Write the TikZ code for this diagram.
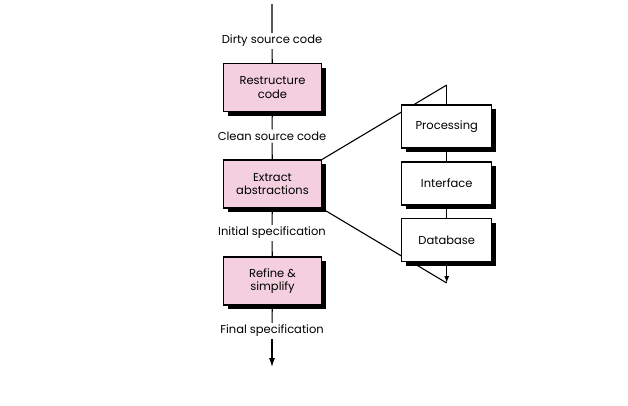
\documentclass[tikz,border=0pt]{standalone}
\usepackage{fontspec}
\setmainfont{Poppins}
\usepackage{tikz}
\usetikzlibrary{shadows,arrows.meta}
\definecolor{boxpink}{RGB}{244,208,222}
\tikzset{every node/.style={font=\fontsize{11.5}{13.3}\selectfont},
  stagebox/.style={draw, line width=1.1pt, fill=boxpink, align=center,
    minimum width=98pt, minimum height=48pt, inner sep=0pt,
    drop shadow={shadow xshift=4pt, shadow yshift=-4pt, fill=black, opacity=1}},
  partbox/.style={stagebox, fill=white, minimum width=90pt, minimum height=43pt},
  flowlabel/.style={inner sep=2pt},
  flow/.style={line width=1.1pt},
  flowarrow/.style={flow, -{Latex[length=9pt,width=6pt]}}}
\begin{document}
\begin{tikzpicture}[x=1pt, y=-1pt]
  \useasboundingbox (0,0) rectangle (628,405);
  % main column
  \coordinate (start) at (272,4);
  \coordinate (finish) at (272,367);
  \node[flowlabel] (dirty) at (272,41) {Dirty source code};
  \node[stagebox] (restruct) at (272.5,87.5) {Restructure\\code};
  \node[flowlabel] (clean) at (272,136) {Clean source code};
  \node[stagebox] (extract) at (272.5,184) {Extract\\abstractions};
  \node[flowlabel] (initial) at (272,233) {Initial specification};
  \node[stagebox] (refine) at (272.5,281) {Refine \&\\simplify};
  \node[flowlabel] (final) at (272,331) {Final specification};
  \draw[flow] (start) -- (dirty) (dirty) -- (restruct) (restruct) -- (clean)
    (clean) -- (extract) (extract) -- (initial) (initial) -- (refine)
    (refine) -- (final);
  \draw[flowarrow] (final) -- (finish);
  % expansion of the abstractions
  \coordinate (ptop) at (446.7,85);
  \coordinate (pbot) at (446.7,283);
  \draw[flow] (extract.north east) -- (ptop);
  \draw[flow] (extract.south east) -- (pbot);
  \node[partbox] (proc) at (446.7,126.5) {Processing};
  \node[partbox] (iface) at (446.7,183.5) {Interface};
  \node[partbox] (dbase) at (446.7,240) {Database};
  \draw[flow] (ptop) -- (proc) (proc) -- (iface) (iface) -- (dbase);
  \draw[flow, -{Latex[length=7pt,width=5pt]}] (dbase) -- (pbot);
\end{tikzpicture}
\end{document}
